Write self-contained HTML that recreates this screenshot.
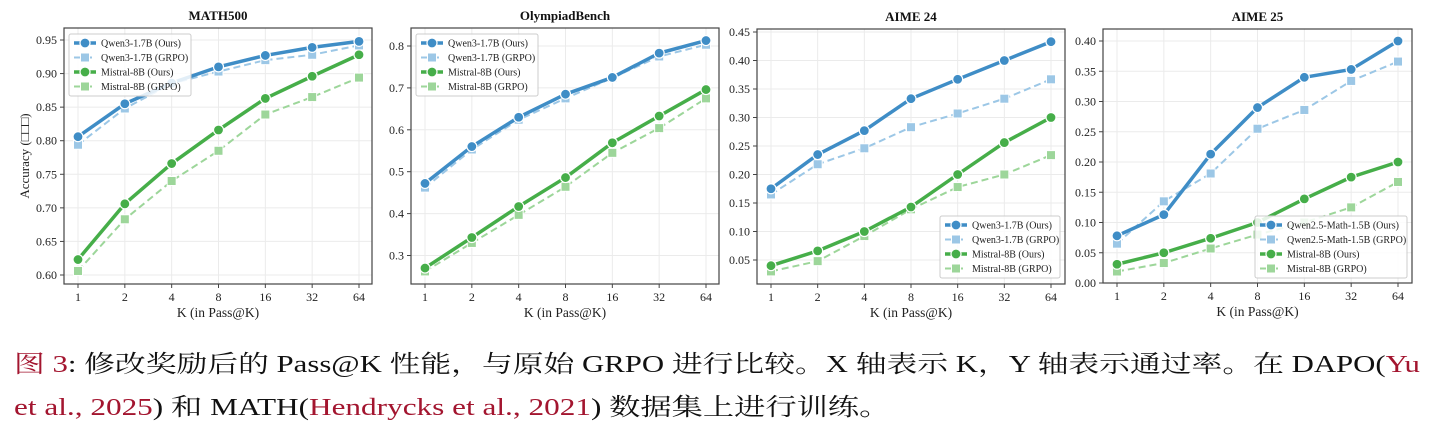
<!DOCTYPE html>
<html><head><meta charset="utf-8">
<style>
body{margin:0;width:1432px;height:434px;background:#fff;overflow:hidden;position:relative;font-family:"Liberation Serif",serif;}
svg{position:absolute;left:0;top:0}
.cap{position:absolute;left:14px;font-family:"Liberation Serif","Noto Serif CJK SC",serif;font-size:24px;color:#111;white-space:nowrap;transform-origin:0 0;line-height:30px}
.r{color:#a3152f}
</style></head><body>
<svg id="s" width="1432" height="330" xmlns="http://www.w3.org/2000/svg" font-family="Liberation Serif, serif"></svg>
<div class="cap" id="c1" style="top:350px"><span class="r">图 3</span>: 修改奖励后的 Pass@K 性能，与原始 GRPO 进行比较。X 轴表示 K，Y 轴表示通过率。在 DAPO(<span class="r">Yu</span></div>
<div class="cap" id="c2" style="top:393px"><span class="r">et al., 2025</span>) 和 MATH(<span class="r">Hendrycks et al., 2021</span>) 数据集上进行训练。</div>
<script>
const P=[
{t:"MATH500",bx:[64,372],by:[28,284],x1:78,x64:359,ya:[0.95,40],yb:[0.60,275],ticks:[0.60,0.65,0.70,0.75,0.80,0.85,0.90,0.95],fmt:2,leg:"tl",
d:[[.806,.855,.886,.910,.927,.939,.948],[.794,.848,.885,.903,.920,.928,.942],[.623,.706,.766,.816,.863,.896,.928],[.606,.683,.740,.785,.839,.865,.894]],names:["Qwen3-1.7B (Ours)","Qwen3-1.7B (GRPO)","Mistral-8B (Ours)","Mistral-8B (GRPO)"]},
{t:"OlympiadBench",bx:[411,719],by:[28,284],x1:425,x64:706,ya:[0.8,46],yb:[0.3,255.5],ticks:[0.3,0.4,0.5,0.6,0.7,0.8],fmt:1,leg:"tl",
d:[[.472,.560,.630,.685,.725,.783,.813],[.462,.553,.624,.675,.724,.775,.803],[.270,.343,.417,.486,.569,.633,.696],[.262,.330,.397,.464,.545,.604,.675]],names:["Qwen3-1.7B (Ours)","Qwen3-1.7B (GRPO)","Mistral-8B (Ours)","Mistral-8B (GRPO)"]},
{t:"AIME 24",bx:[757,1065],by:[29,284],x1:771,x64:1051,ya:[0.45,32],yb:[0.05,260],ticks:[0.05,0.10,0.15,0.20,0.25,0.30,0.35,0.40,0.45],fmt:2,leg:"br",lx:940,
d:[[.175,.235,.277,.333,.367,.400,.433],[.165,.218,.246,.283,.307,.333,.367],[.040,.066,.100,.143,.200,.256,.300],[.030,.048,.092,.139,.178,.200,.234]],names:["Qwen3-1.7B (Ours)","Qwen3-1.7B (GRPO)","Mistral-8B (Ours)","Mistral-8B (GRPO)"]},
{t:"AIME 25",bx:[1103,1412],by:[29,283],x1:1117,x64:1398,ya:[0.40,41],yb:[0.00,283],ticks:[0,0.05,0.10,0.15,0.20,0.25,0.30,0.35,0.40],fmt:2,leg:"br",lx:1255,
d:[[.078,.113,.213,.290,.340,.353,.400],[.065,.135,.181,.255,.286,.334,.366],[.031,.050,.074,.100,.139,.175,.200],[.019,.033,.057,.080,.100,.125,.167]],names:["Qwen2.5-Math-1.5B (Ours)","Qwen2.5-Math-1.5B (GRPO)","Mistral-8B (Ours)","Mistral-8B (GRPO)"]}
];
const C=["#3f8dc6","#9cc7e6","#46ae49","#9dd69a"];
const K=["1","2","4","8","16","32","64"];
let h="";
function mk(i,x,y){ if(i%2==0) return `<circle cx="${x}" cy="${y}" r="5" fill="${C[i]}" stroke="#fff" stroke-width="1.2"/>`;
 return `<rect x="${x-4.5}" y="${y-4.5}" width="9" height="9" fill="${C[i]}" stroke="#fff" stroke-width="1"/>`;}
function line(i,x1,y1,x2,y2){return `<line x1="${x1}" y1="${y1}" x2="${x2}" y2="${y2}" stroke="${C[i]}" stroke-width="${i%2==0?3.5:2}" ${i%2?'stroke-dasharray="7,4"':''}/>`;}
for(const p of P){
 const X=k=>p.x1+(p.x64-p.x1)*k/6;
 const Y=v=>p.ya[1]+(v-p.ya[0])*(p.yb[1]-p.ya[1])/(p.yb[0]-p.ya[0]);
 const [L,R]=p.bx,[T,B]=p.by;
 for(let k=0;k<7;k++){h+=`<line x1="${X(k)}" y1="${T}" x2="${X(k)}" y2="${B}" stroke="#ebebeb" stroke-width="1"/>`;
  h+=`<line x1="${X(k)}" y1="${B}" x2="${X(k)}" y2="${B+4}" stroke="#444"/>`;
  h+=`<text x="${X(k)}" y="${B+17}" font-size="12" text-anchor="middle" fill="#222">${K[k]}</text>`;}
 for(const v of p.ticks){const y=Y(v);h+=`<line x1="${L}" y1="${y}" x2="${R}" y2="${y}" stroke="#ebebeb"/>`;
  h+=`<line x1="${L-4}" y1="${y}" x2="${L}" y2="${y}" stroke="#444"/>`;
  h+=`<text x="${L-7}" y="${y+4}" font-size="12" text-anchor="end" fill="#222">${v.toFixed(p.fmt)}</text>`;}
 for(let i=3;i>=0;i--){const d=p.d[i];let pts=d.map((v,k)=>X(k)+","+Y(v)).join(" ");
  h+=`<polyline points="${pts}" fill="none" stroke="${C[i]}" stroke-width="${i%2==0?3.5:2}" ${i%2?'stroke-dasharray="7,4"':''} stroke-linejoin="round"/>`;
  d.forEach((v,k)=>h+=mk(i,X(k),Y(v)));}
 h+=`<rect x="${L}" y="${T}" width="${R-L}" height="${B-T}" fill="none" stroke="#444" stroke-width="1.2"/>`;
 h+=`<text x="${(L+R)/2}" y="${T-8}" font-size="13" font-weight="bold" text-anchor="middle" fill="#111">${p.t}</text>`;
 h+=`<text x="${(L+R)/2}" y="${B+33}" font-size="13.5" text-anchor="middle" fill="#222">K (in Pass@K)</text>`;
 let lx,ly,lw;
 if(p.leg=="tl"){lx=L+5;ly=T+6;lw=122}else{lx=p.lx;ly=216;lw=R-5-p.lx}
 h+=`<rect x="${lx}" y="${ly}" width="${lw}" height="62" fill="#fff" fill-opacity="0.85" stroke="#ccc" rx="2"/>`;
 for(let i=0;i<4;i++){const y=ly+9+i*14.5;
  h+=line(i,lx+5,y,lx+27,y)+mk(i,lx+16,y);
  h+=`<text x="${lx+32}" y="${y+3.5}" font-size="10" fill="#222">${p.names[i]}</text>`;}
}
h+=`<text transform="translate(29,156) rotate(-90)" font-size="13" text-anchor="middle" fill="#222">Accuracy (□□□)</text>`;
document.getElementById("s").innerHTML=h;
function fit(id,w){const e=document.getElementById(id);const n=e.scrollWidth;e.style.transform=`scaleX(${w/n})`;}
fit("c1",1406);fit("c2",876);
</script>
</body></html>
